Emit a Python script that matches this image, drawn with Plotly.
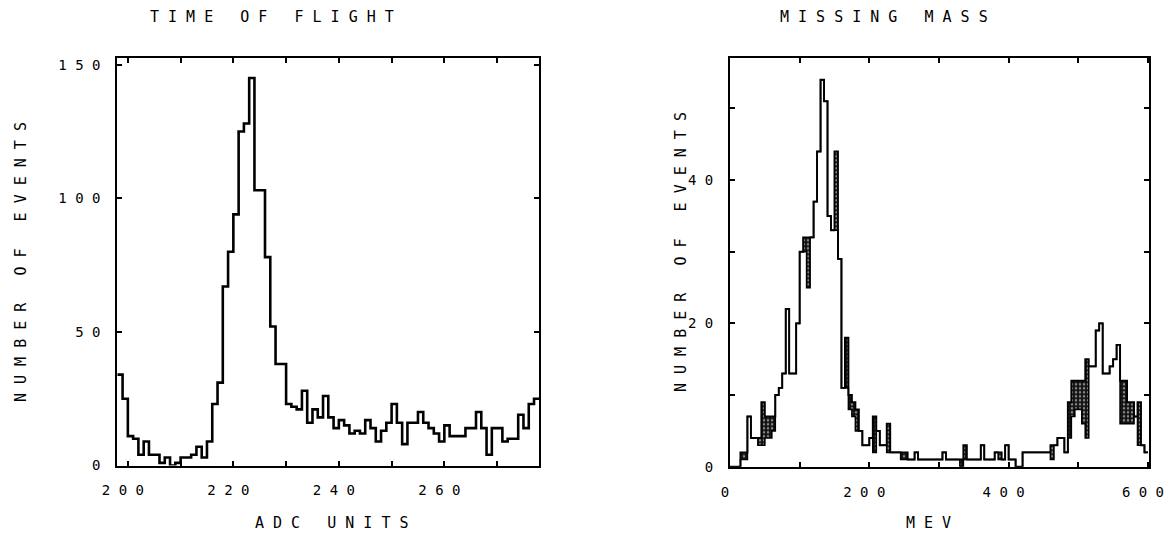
import numpy as np
import plotly.graph_objects as go

# ---------------- data ----------------
# Left panel: time of flight, 1 ADC-unit bins starting at 198
tof_first_bin = 198
tof_bin_width = 1
tof_counts = [34, 25, 11, 10, 4, 9, 4, 4, 1, 3,
              0, 1, 3, 3, 4, 7, 3, 9, 23, 31,
              67, 80, 94, 125, 128, 145, 103, 103, 78, 52,
              38, 38, 23, 22, 21, 28, 16, 21, 18, 26,
              18, 14, 17, 15, 12, 13, 12, 17, 14, 9,
              13, 16, 23, 16, 8, 16, 16, 20, 16, 14,
              12, 9, 15, 11, 11, 11, 14, 14, 20, 14,
              4, 14, 14, 9, 10, 10, 19, 14, 23, 25]

# Right panel: missing mass, 5 MeV bins from 0; upper / lower envelopes (stippled between)
mm_first_bin = 0
mm_bin_width = 5
mm_upper = [0, 0, 0, 2, 2, 7, 4, 4, 4, 9,
            7, 7, 7, 10, 11, 13, 22, 13, 13, 20,
            30, 32, 32, 32, 37, 44, 54, 51, 35, 33,
            44, 29, 11, 18, 10, 9, 8, 5, 3, 3,
            4, 7, 5, 3, 3, 6, 2, 2, 2, 2,
            2, 1, 1, 2, 1, 1, 1, 1, 1, 1,
            1, 2, 1, 1, 1, 1, 1, 3, 1, 1,
            1, 1, 3, 1, 1, 1, 2, 2, 1, 3,
            1, 1, 0, 0, 2, 2, 2, 2, 2, 2,
            2, 2, 3, 3, 4, 4, 2, 9, 12, 12,
            12, 12, 15, 14, 14, 19, 20, 13, 13, 14,
            15, 17, 12, 12, 9, 9, 7, 9, 3, 2]
mm_lower = [0, 0, 0, 1, 1, 7, 4, 4, 3, 3,
            4, 4, 5, 10, 11, 13, 22, 13, 13, 20,
            30, 30, 25, 32, 37, 44, 54, 51, 35, 33,
            33, 29, 11, 11, 8, 7, 5, 5, 3, 3,
            4, 2, 5, 3, 3, 2, 2, 2, 2, 1,
            1, 1, 1, 2, 1, 1, 1, 1, 1, 1,
            1, 2, 1, 1, 1, 1, 0, 1, 1, 1,
            1, 1, 3, 1, 1, 1, 2, 1, 1, 3,
            1, 1, 0, 0, 2, 2, 2, 2, 2, 2,
            2, 2, 1, 3, 4, 4, 2, 4, 7, 8,
            8, 6, 4, 14, 14, 19, 20, 13, 13, 14,
            15, 17, 6, 6, 6, 6, 7, 3, 3, 2]

tof_tickvals = [200, 210, 220, 230, 240, 250, 260, 270]
tof_ticktext = ["2 0 0", "", "2 2 0", "", "2 4 0", "", "2 6 0", ""]
tof_ytickvals = [0, 50, 100, 150]
tof_yticktext = ["0", "5 0", "1 0 0", "1 5 0"]
mm_tickvals = [0, 100, 200, 300, 400, 500, 600]
mm_ticktext = ["0", "", "2 0 0", "", "4 0 0", "", "6 0 0"]
mm_ytickvals = [0, 10, 20, 30, 40, 50]
mm_yticktext = ["0", "", "2 0", "", "4 0", ""]

# ---------------- helpers ----------------
W, H = 1169, 536
FONT = "DejaVu Sans Mono"


def step_xy(first, width, counts):
    edges = first + width * np.arange(len(counts) + 1)
    ys = list(counts) + [counts[-1]]
    return edges, ys


def px_x(v):
    return v / W


def px_y(v):
    return 1 - v / H


fig = go.Figure()

tx, ty = step_xy(tof_first_bin, tof_bin_width, tof_counts)
fig.add_trace(go.Scatter(x=tx, y=ty, mode="lines", line=dict(shape="hv", color="black", width=2.6),
                         xaxis="x", yaxis="y", showlegend=False, hoverinfo="skip"))

lx, ly = step_xy(mm_first_bin, mm_bin_width, mm_lower)
ux, uy = step_xy(mm_first_bin, mm_bin_width, mm_upper)
fig.add_trace(go.Scatter(x=lx, y=ly, mode="lines", line=dict(shape="hv", color="black", width=1.6),
                         xaxis="x2", yaxis="y2", showlegend=False, hoverinfo="skip"))
fig.add_trace(go.Scatter(x=ux, y=uy, mode="lines", line=dict(shape="hv", color="black", width=1.9),
                         fill="tonexty", fillcolor="#222222",
                         fillpattern=dict(shape=".", fgcolor="white", bgcolor="#111111", size=4, solidity=0.3),
                         xaxis="x2", yaxis="y2", showlegend=False, hoverinfo="skip"))

axis_common = dict(showgrid=False, zeroline=False, showline=True, linecolor="black", linewidth=2,
                   mirror="ticks", ticks="inside", ticklen=5, tickwidth=1.5, tickcolor="black",
                   tickfont=dict(family=FONT, size=14, color="black"), tickmode="array",
                   automargin=False)

fig.update_layout(
    width=W, height=H, margin=dict(l=0, r=0, t=0, b=0, pad=0, autoexpand=False),
    paper_bgcolor="white", plot_bgcolor="white",
    xaxis=dict(domain=[px_x(117.3), px_x(539.3)], range=[198, 278], anchor="y",
               tickvals=tof_tickvals, ticktext=tof_ticktext, ticklabelshift=-5, ticklabelstandoff=11,
               **axis_common),
    yaxis=dict(domain=[px_y(465.5), px_y(58.3)], range=[0, 152.4], anchor="x",
               tickvals=tof_ytickvals, ticktext=tof_yticktext, ticklabelstandoff=12, **axis_common),
    xaxis2=dict(domain=[px_x(730), px_x(1149)], range=[0, 601.5], anchor="y2",
                tickvals=mm_tickvals, ticktext=mm_ticktext, ticklabelshift=-5, ticklabelstandoff=11,
                **axis_common),
    yaxis2=dict(domain=[px_y(466.7), px_y(58.3)], range=[0, 57], anchor="x2",
                tickvals=mm_ytickvals, ticktext=mm_yticktext, ticklabelstandoff=12, **axis_common),
)

ann_font = dict(family=FONT, size=15, color="black")
annotations = [
    dict(text="T I M E   O F   F L I G H T", x=px_x(148), y=px_y(17), xanchor="left", yanchor="middle"),
    dict(text="M I S S I N G   M A S S", x=px_x(778), y=px_y(17), xanchor="left", yanchor="middle"),
    dict(text="N U M B E R   O F   E V E N T S", x=px_x(21), y=px_y(262), textangle=-90,
         xanchor="center", yanchor="middle"),
    dict(text="N U M B E R   O F   E V E N T S", x=px_x(681), y=px_y(252), textangle=-90,
         xanchor="center", yanchor="middle"),
    dict(text="A D C   U N I T S", x=px_x(332), y=px_y(523), xanchor="center", yanchor="middle"),
    dict(text="M E V", x=px_x(928), y=px_y(523), xanchor="center", yanchor="middle"),
]
for a in annotations:
    a.update(xref="paper", yref="paper", showarrow=False, font=ann_font)
fig.update_layout(annotations=annotations)

fig.write_html("out.html")
